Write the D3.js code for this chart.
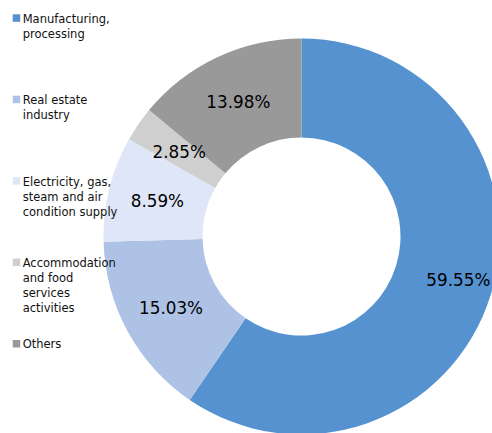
<!DOCTYPE html>
<html>
<head>
<meta charset="utf-8">
<script src="https://cdn.jsdelivr.net/npm/d3@7"></script>
<style>
  html, body { margin: 0; padding: 0; background: #fff; }
  svg { display: block; }
</style>
</head>
<body>
<svg id="chart" width="492" height="433"></svg>
<script>
// Sector shares (%) in clockwise order from 12 o'clock
const categories = [
  "Manufacturing, processing",
  "Real estate industry",
  "Electricity, gas, steam and air condition supply",
  "Accommodation and food services activities",
  "Others"
];
const shares = [59.55, 15.03, 8.59, 2.85, 13.98];
const valueLabels = ["59.55%", "15.03%", "8.59%", "2.85%", "13.98%"];
// Legend text broken into lines
const legendLines = [
  ["Manufacturing,", "processing"],
  ["Real estate", "industry"],
  ["Electricity, gas,", "steam and air", "condition supply"],
  ["Accommodation", "and food", "services", "activities"],
  ["Others"]
];
const palette = ["#5592CF", "#ADC2E5", "#DEE6F7", "#CFCFCF", "#999999"];

const svg = d3.select("#chart");
const cx = 301.5, cy = 236.5;
const outerR = 198, innerR = 99;

const color = d3.scaleOrdinal().domain(categories).range(palette);

const pie = d3.pie()
  .sort(null)
  .value(d => d.value);

const data = categories.map((c, i) => ({ name: c, value: shares[i], label: valueLabels[i] }));
const arcs = pie(data);

const arc = d3.arc().innerRadius(innerR).outerRadius(outerR);
const labelArc = d3.arc().innerRadius(148.5).outerRadius(148.5);

const g = svg.append("g").attr("transform", `translate(${cx},${cy})`);

g.selectAll("path.slice")
  .data(arcs)
  .join("path")
  .attr("class", "slice")
  .attr("d", arc)
  .attr("fill", d => color(d.data.name));

// Value labels; the large slice's label sits further out along its arc
const labelOffset = i => (i === 0 ? [15, 0] : [0, 0]);
g.selectAll("text.value")
  .data(arcs)
  .join("text")
  .attr("class", "value")
  .attr("x", (d, i) => labelArc.centroid(d)[0] + labelOffset(i)[0])
  .attr("y", (d, i) => labelArc.centroid(d)[1] + labelOffset(i)[1])
  .attr("text-anchor", "middle")
  .attr("dominant-baseline", "central")
  .attr("font-family", "'DejaVu Sans', Verdana, sans-serif")
  .attr("font-size", 16.8)
  .attr("fill", "#000")
  .text(d => d.data.label);

// Legend on the left
const legend = svg.append("g").attr("class", "legend");
const itemY = d3.scalePoint().domain(categories).range([14.3, 340]);

const item = legend.selectAll("g.item")
  .data(categories)
  .join("g")
  .attr("class", "item")
  .attr("transform", d => `translate(12.7,${itemY(d)})`);

item.append("rect")
  .attr("width", 7.5)
  .attr("height", 7.5)
  .attr("fill", d => color(d));

item.append("text")
  .attr("font-family", "'DejaVu Sans', Verdana, sans-serif")
  .attr("font-size", 11.5)
  .attr("fill", "#111")
  .selectAll("tspan")
  .data((d, i) => legendLines[i])
  .join("tspan")
  .attr("x", 10)
  .attr("y", (d, j) => 8.4 + j * 15)
  .text(d => d);
</script>
</body>
</html>
